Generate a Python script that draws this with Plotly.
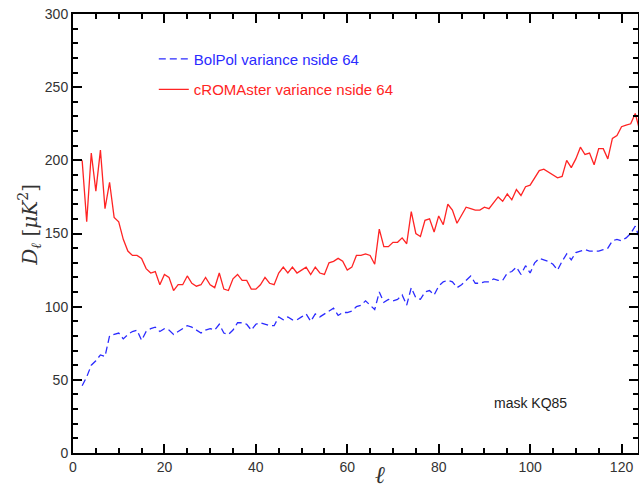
import plotly.graph_objects as go

ell = list(range(2, 125))

crom = [200, 158, 205, 179, 207, 167, 185, 161, 158, 146, 138, 135, 135, 133, 126, 123, 124, 115, 122, 120,
        111, 115, 115, 121, 116, 114, 115, 120, 115, 113, 123, 112, 111, 119, 122, 118, 118, 112, 112, 115,
        120, 116, 115, 123, 127, 123, 127, 123, 125, 127, 122, 127, 123, 122, 130, 131, 133, 131, 125, 127,
        135, 135, 136, 135, 129, 153, 141, 141, 144, 144, 147, 143, 165, 150, 148, 159, 160, 151, 162, 156,
        170, 166, 157, 163, 168, 167, 166, 166, 168, 167, 171, 175, 172, 177, 173, 180, 176, 182, 183, 188,
        193, 194, 192, 190, 188, 189, 200, 195, 201, 209, 204, 205, 197, 208, 208, 201, 215, 217, 223, 224,
        225, 232, 220]

bolpol = [46, 52, 60, 63, 67, 66, 80, 81, 82, 78, 81, 83, 84, 77, 83, 85, 86, 83, 85, 84,
          81, 83, 85, 87, 86, 84, 82, 84, 85, 84, 88, 82, 81, 84, 89, 89, 88, 84, 88, 89,
          88, 87, 87, 93, 91, 93, 91, 91, 93, 95, 90, 95, 93, 95, 97, 99, 94, 96, 96, 97,
          100, 101, 104, 101, 98, 110, 103, 105, 104, 105, 108, 101, 113, 106, 105, 110, 111, 108, 114, 117,
          118, 117, 113, 115, 118, 121, 116, 116, 117, 117, 119, 118, 118, 123, 124, 127, 122, 128, 123, 130,
          133, 132, 131, 129, 125, 131, 136, 132, 137, 138, 139, 138, 138, 138, 139, 140, 145, 146, 145, 147,
          150, 155, 146]

x_ticks = [0, 20, 40, 60, 80, 100, 120]
y_ticks = [0, 50, 100, 150, 200, 250, 300]

BLUE = "#2b2bff"
RED = "#ff2424"

fig = go.Figure()
fig.add_trace(go.Scatter(
    x=ell, y=bolpol, mode="lines",
    name=f"<span style='color:{BLUE}'>BolPol variance nside 64</span>",
    line=dict(color=BLUE, width=1.3, dash="7px,4px"),
    legendgroup="a"))
fig.add_trace(go.Scatter(
    x=ell, y=crom, mode="lines",
    name=f"<span style='color:{RED}'>cROMAster variance nside 64</span>",
    line=dict(color=RED, width=1.3),
    legendgroup="b"))

axis_common = dict(
    showline=True, linecolor="black", linewidth=2, mirror="allticks",
    ticks="inside", tickcolor="black", tickwidth=2, ticklen=9,
    showgrid=False, zeroline=False, automargin=False,
    tickfont=dict(family="Liberation Sans, Arial, sans-serif", size=14, color="#333333"),
)

fig.update_xaxes(
    range=[0, 123.6], tickvals=x_ticks,
    minor=dict(dtick=5, ticks="inside", ticklen=5, tickwidth=1.5, tickcolor="black"),
    **axis_common)
fig.update_yaxes(
    range=[0, 300], tickvals=y_ticks,
    minor=dict(dtick=10, ticks="inside", ticklen=5, tickwidth=1.5, tickcolor="black"),
    **axis_common)

# axis titles
fig.add_annotation(x=0.543, y=0, xref="paper", yref="paper", yshift=-22, yanchor="middle",
                   text="<i>ℓ</i>", showarrow=False,
                   font=dict(family="DejaVu Serif, serif", size=24, color="#333333"))
fig.add_annotation(x=0, y=0.52, xref="paper", yref="paper", xshift=-43, xanchor="center",
                   yanchor="middle", textangle=-90,
                   text="<i>D</i><sub><i>ℓ</i></sub> [<i>μK</i><sup>2</sup>]", showarrow=False,
                   font=dict(family="DejaVu Serif, serif", size=20, color="#333333"))

fig.add_annotation(x=100, y=34, xref="x", yref="y", text="mask KQ85", showarrow=False,
                   font=dict(family="Liberation Sans, Arial, sans-serif", size=14, color="#222222"))

fig.update_layout(
    width=639, height=489,
    margin=dict(l=73, r=1, t=14, b=36),
    paper_bgcolor="white", plot_bgcolor="white",
    showlegend=True,
    legend=dict(x=0.143, y=0.935, xanchor="left", yanchor="top",
                bgcolor="rgba(0,0,0,0)", traceorder="grouped", tracegroupgap=8,
                font=dict(family="Liberation Sans, Arial, sans-serif", size=15)),
)

fig.write_html("out.html", config={"displayModeBar": False},
               post_script="document.body.style.margin='0';")
